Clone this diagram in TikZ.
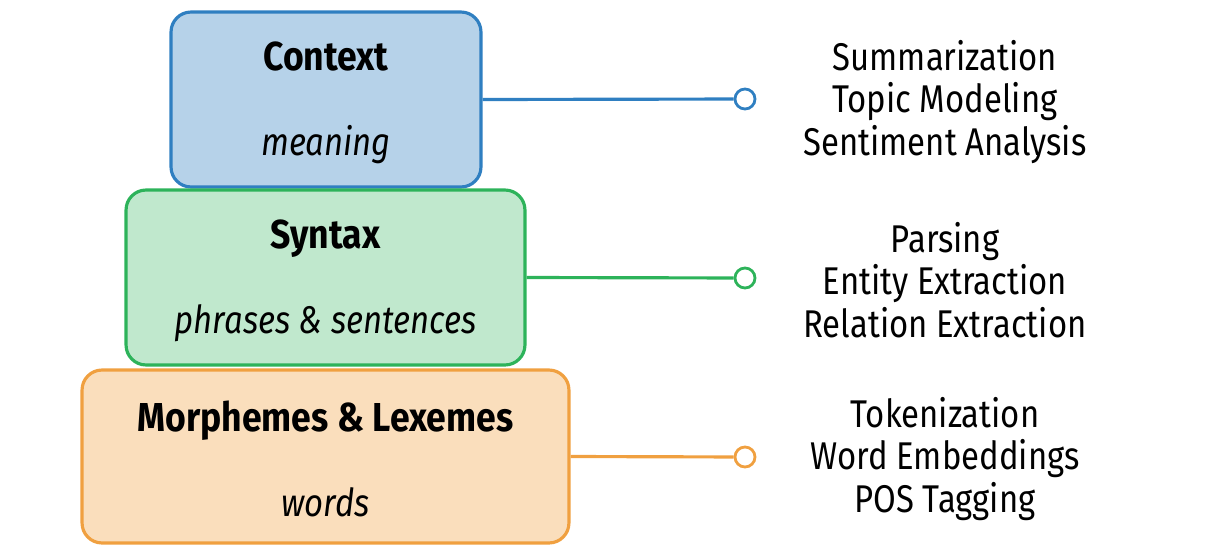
\documentclass[tikz,border=0pt]{standalone}
\usepackage{fontspec}
\setmainfont[FakeStretch=0.85]{Fira Sans}
\newfontfamily\titlefont[FakeStretch=0.88]{Fira Sans}
\usepackage{xcolor}
\definecolor{colorContext}{HTML}{2F7FC1}
\definecolor{colorSyntax}{HTML}{2DB35A}
\definecolor{colorMorph}{HTML}{F0A040}
\usetikzlibrary{positioning}
\tikzset{
  layer/.style={draw, line width=1.8pt, rounded corners=0.4cm, align=center, inner sep=0pt, minimum height=3.5cm},
  endpoint/.style={circle, line width=1.6pt, fill=white, minimum size=0.4cm, inner sep=0pt},
  tasklist/.style={align=center, font=\fontsize{22}{24}\selectfont},
}
\newcommand{\layertext}[2]{\rule{0pt}{20pt}{\titlefont\fontsize{23}{24}\selectfont\bfseries #1}\\[24pt]\textit{#2}}

\begin{document}
\begin{tikzpicture}[x=0.02cm, y=-0.02cm, line width=1.8pt, font=\fontsize{22}{24}\selectfont]
\useasboundingbox (0,0) rectangle (1211,545);
\node[layer, draw=colorContext, fill=colorContext!35, minimum width=6.2cm] (context) at (326,99.5) {\layertext{Context}{meaning}};
\node[layer, draw=colorSyntax, fill=colorSyntax!30, minimum width=7.98cm] (syntax) at (325.5,277.5) {\layertext{Syntax}{phrases \& sentences}};
\node[layer, draw=colorMorph, fill=colorMorph!35, minimum width=9.74cm, minimum height=3.46cm] (morph) at (325.5,456.5) {\layertext{Morphemes \& Lexemes}{words}};
\node[endpoint, draw=colorContext] (c1) at (745,99) {};
\node[endpoint, draw=colorSyntax] (c2) at (745,278) {};
\node[endpoint, draw=colorMorph] (c3) at (745,457) {};
\draw[colorContext] (context.east) -- (c1);
\draw[colorSyntax] (syntax.east) -- (c2);
\draw[colorMorph] (morph.east) -- (c3);
\node[tasklist] (t1) at (945,102) {Summarization\\Topic Modeling\\Sentiment Analysis};
\node[tasklist] (t2) at (945,280) {Parsing\\Entity Extraction\\Relation Extraction};
\node[tasklist] (t3) at (945,459) {Tokenization\\Word Embeddings\\POS Tagging};
\end{tikzpicture}
\end{document}
